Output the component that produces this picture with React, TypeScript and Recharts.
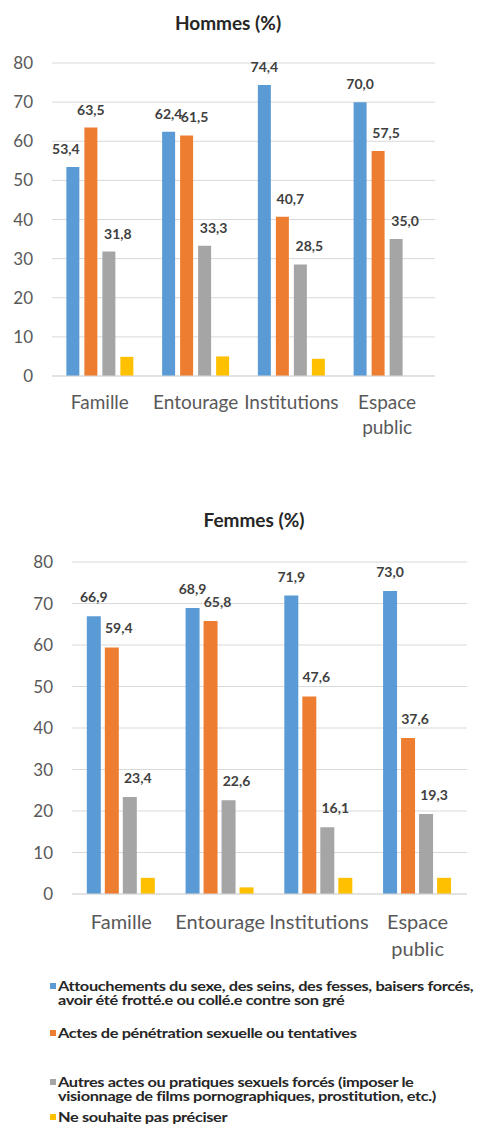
import React from 'react';
import { BarChart, Bar, XAxis, YAxis, CartesianGrid, LabelList } from 'recharts';

const categories = ['Famille', 'Entourage', 'Institutions', 'Espace public'];
const seriesNames = [
  'Attouchements du sexe, des seins, des fesses, baisers forcés,\navoir été frotté.e ou collé.e contre son gré',
  'Actes de pénétration sexuelle ou tentatives',
  'Autres actes ou pratiques sexuels forcés (imposer le\nvisionnage de films pornographiques, prostitution, etc.)',
  'Ne souhaite pas préciser',
];
const colors = ['#5B9BD5', '#ED7D31', '#A5A5A5', '#FFC000'];

const hommesAttouchements = [53.4, 62.4, 74.4, 70.0];
const hommesPenetration = [63.5, 61.5, 40.7, 57.5];
const hommesAutres = [31.8, 33.3, 28.5, 35.0];
const hommesNsp = [4.9, 5.0, 4.4, 0];

const femmesAttouchements = [66.9, 68.9, 71.9, 73.0];
const femmesPenetration = [59.4, 65.8, 47.6, 37.6];
const femmesAutres = [23.4, 22.6, 16.1, 19.3];
const femmesNsp = [3.9, 1.6, 3.9, 3.9];

const yTicks = [0, 10, 20, 30, 40, 50, 60, 70, 80];

const build = (a: number[], b: number[], c: number[], d: number[]) =>
  categories.map((name, i) => ({ name, s0: a[i], s1: b[i], s2: c[i], s3: d[i] }));

const hommesData = build(hommesAttouchements, hommesPenetration, hommesAutres, hommesNsp);
const femmesData = build(femmesAttouchements, femmesPenetration, femmesAutres, femmesNsp);

const FONT = 'Lato, "Noto Sans", sans-serif';

const fmt = (v: number) => v.toFixed(1).replace('.', ',');

// label drawn above the bar, nudged sideways like the hand-placed Excel labels
const makeLabel = (dx: (i: number) => number, lift: number) => (props: any) => {
  const { x, y, width, value, index } = props;
  return (
    <text
      x={x + width / 2 + dx(index)}
      y={y - lift}
      textAnchor="middle"
      fontSize={14}
      fontWeight={700}
      fill="#404040"
      fontFamily={FONT}
    >
      {fmt(value)}
    </text>
  );
};

const CategoryTick = ({ x, y, payload, fontSize, dy, lineHeight }: any) => {
  const lines = String(payload.value).split(' ');
  return (
    <text x={x} y={y} textAnchor="middle" fill="#595959" fontSize={fontSize} fontFamily={FONT}>
      {lines.map((l, i) => (
        <tspan key={i} x={x} dy={i === 0 ? dy : lineHeight}>
          {l}
        </tspan>
      ))}
    </text>
  );
};

interface ChartProps {
  data: any[];
  width: number;
  height: number;
  xHeight: number;
  margin: { top: number; right: number; left: number; bottom: number };
  yWidth: number;
  barGap: number;
  fontSize: number;
  tickDy: number;
  lineHeight: number;
  lift: number;
  dx: Array<(i: number) => number>;
}

const GroupChart = ({ data, width, height, xHeight, margin, yWidth, barGap, fontSize, tickDy, lineHeight, lift, dx }: ChartProps) => (
  <BarChart width={width} height={height} data={data} margin={margin} barGap={barGap} barCategoryGap="15%">
    <CartesianGrid vertical={false} stroke="#D9D9D9" />
    <XAxis
      dataKey="name"
      axisLine={{ stroke: '#D9D9D9' }}
      tickLine={false}
      interval={0}
      height={xHeight}
      tick={<CategoryTick fontSize={fontSize} dy={tickDy} lineHeight={lineHeight} />}
    />
    <YAxis
      domain={[0, 80]}
      ticks={yTicks}
      width={yWidth}
      axisLine={false}
      tickLine={false}
      tickMargin={13}
      tick={{ fill: '#595959', fontSize: 17, fontFamily: FONT }}
    />
    {['s0', 's1', 's2', 's3'].map((k, i) => (
      <Bar key={k} dataKey={k} name={seriesNames[i]} fill={colors[i]} isAnimationActive={false}>
        {i < 3 && <LabelList dataKey={k} content={makeLabel(dx[i], lift)} />}
      </Bar>
    ))}
  </BarChart>
);

const legendTops = [979, 1026, 1075, 1110];

export default function App() {
  return (
    <div style={{ position: 'absolute', left: 0, top: 0, width: 481, height: 1137, background: '#fff', fontFamily: FONT, overflow: 'hidden' }}>
      <div style={{ position: 'absolute', top: 11, left: 128, width: 200, textAlign: 'center', fontWeight: 700, fontSize: 19, color: '#262626' }}>
        Hommes (%)
      </div>
      <div style={{ position: 'absolute', top: 0, left: 0 }}>
        <GroupChart
          data={hommesData}
          width={481}
          height={460}
          xHeight={84}
          margin={{ top: 63, right: 46, left: 0, bottom: 0 }}
          yWidth={52}
          barGap={5}
          fontSize={19}
          tickDy={25}
          lineHeight={25}
          lift={13}
          dx={[(i) => (i === 0 ? -7 : 0), (i) => (i === 0 ? 0 : 8), () => 9]}
        />
      </div>

      <div style={{ position: 'absolute', top: 508, left: 154, width: 200, textAlign: 'center', fontWeight: 700, fontSize: 19, color: '#262626' }}>
        Femmes (%)
      </div>
      <div style={{ position: 'absolute', top: 500, left: 0 }}>
        <GroupChart
          data={femmesData}
          width={481}
          height={480}
          xHeight={86}
          margin={{ top: 62, right: 14, left: 0, bottom: 0 }}
          yWidth={72}
          barGap={4}
          fontSize={20}
          tickDy={27}
          lineHeight={27}
          lift={14}
          dx={[() => 0, () => 7, () => 8]}
        />
      </div>

      {seriesNames.map((name, i) => (
        <div key={i} style={{ position: 'absolute', top: legendTops[i], left: 50, display: 'flex', alignItems: 'flex-start' }}>
          <div style={{ width: 6, height: 6, background: colors[i], marginTop: 4, marginRight: 2 }} />
          <div
            style={{
              whiteSpace: 'pre',
              fontSize: 13,
              fontWeight: 700,
              lineHeight: '14px',
              color: '#262626',
              letterSpacing: -0.3,
              transform: 'scaleX(1.26)',
              transformOrigin: 'left top',
            }}
          >
            {name}
          </div>
        </div>
      ))}
    </div>
  );
}
